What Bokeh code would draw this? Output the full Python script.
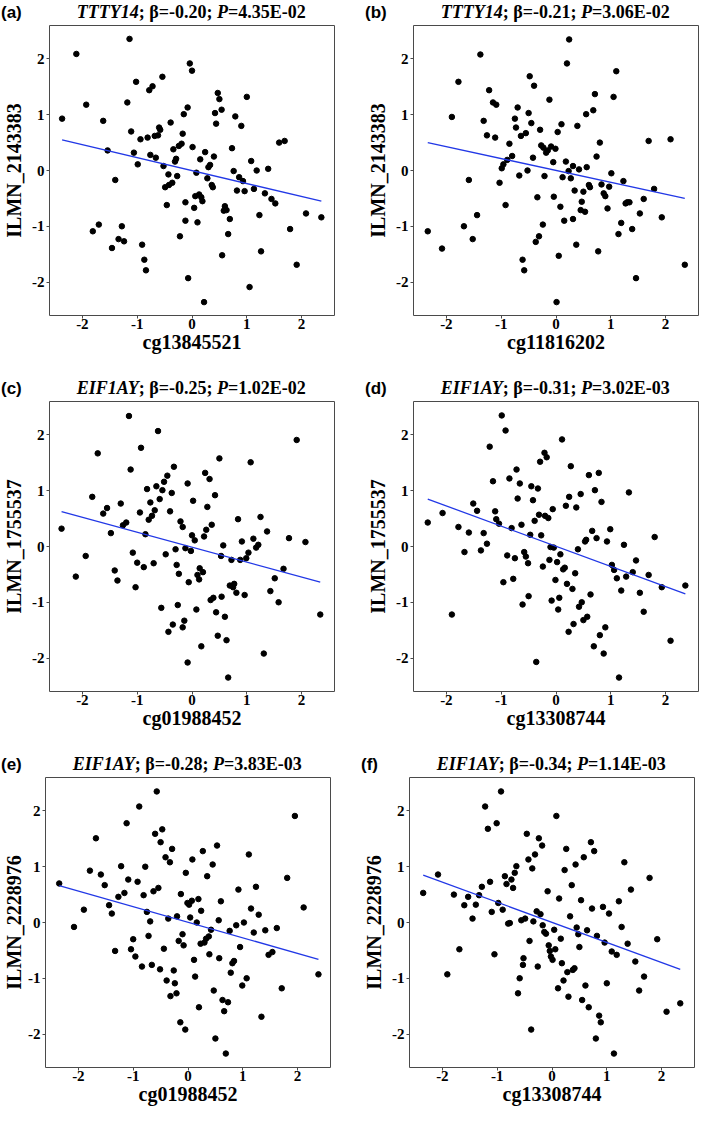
from bokeh.plotting import figure
from bokeh.layouts import column, row
from bokeh.models import Range1d, FixedTicker, Div, InlineStyleSheet
from bokeh.embed import file_html
from bokeh.resources import INLINE

# ---------------- data ----------------
a_xy = [(-2.37,0.93),(-2.11,2.09),(-1.93,1.18),(-1.81,-1.09),(-1.70,-0.97),(-1.62,0.89),(-1.54,0.36),(-1.46,-1.39),
        (-1.40,-0.17),(-1.34,-1.23),(-1.28,-1.00),(-1.24,-1.27),(-1.18,1.22),(-1.14,2.36),(-1.11,0.70),(-1.06,0.32),
        (-1.02,1.59),(-0.99,0.11),(-0.94,0.56),(-0.91,-1.33),(-0.87,-1.60),(-0.84,-1.79),(-0.81,0.59),(-0.78,1.44),
        (-0.76,0.28),(-0.72,1.51),(-0.68,0.62),(-0.66,0.23),(-0.62,0.63),(-0.60,0.77),(-0.58,0.73),(-0.54,1.68),
        (-0.52,0.08),(-0.49,-0.30),(-0.46,-0.62),(-0.43,-0.07),(-0.42,-0.26),(-0.39,0.86),(-0.36,-0.22),(-0.34,0.38),
        (-0.31,0.16),(-0.29,0.21),(-0.27,-0.10),(-0.24,0.44),(-0.22,-1.18),(-0.19,0.48),(-0.17,0.66),(-0.15,1.01),
        (-0.12,-0.57),(-0.12,-0.90),(-0.08,1.13),(-0.07,-1.93),(-0.04,1.92),(0.00,1.79),(0.01,0.42),(0.04,-0.67),
        (0.06,-0.46),(0.08,-0.04),(0.10,-0.93),(0.13,-0.43),(0.15,0.20),(0.17,-0.48),(0.19,-0.55),(0.22,-2.36),
        (0.24,0.33),(0.28,-0.14),(0.30,0.06),(0.33,0.10),(0.36,-0.26),(0.38,-0.30),(0.40,0.25),(0.42,1.03),
        (0.44,0.84),(0.47,1.39),(0.50,1.28),(0.54,1.09),(0.55,-1.52),(0.58,-0.72),(0.60,-0.64),(0.63,-0.71),
        (0.66,-1.14),(0.69,-0.87),(0.73,0.40),(0.76,-0.01),(0.79,0.97),(0.82,-0.36),(0.86,-0.12),(0.90,0.80),
        (0.93,-0.19),(0.96,-0.37),(1.00,1.32),(1.05,-2.09),(1.08,0.17),(1.13,-0.33),(1.18,0.00),(1.23,-0.80),
        (1.26,-1.45),(1.33,-0.41),(1.39,0.03),(1.45,-0.51),(1.52,-0.59),(1.59,0.50),(1.69,0.53),(1.79,-1.05),
        (1.91,-1.69),(2.08,-0.77),(2.36,-0.84)]

b_xy = [(-2.34,-1.09),(-2.08,-1.40),(-1.90,0.96),(-1.78,1.59),(-1.68,-1.00),(-1.59,-0.17),(-1.52,-1.23),(-1.44,-0.80),
        (-1.38,2.08),(-1.32,0.89),(-1.26,0.63),(-1.22,1.44),(-1.15,1.22),(-1.11,0.59),(-1.09,1.18),(-1.03,-0.22),
        (-0.99,0.04),(-0.96,0.11),(-0.92,-0.62),(-0.89,0.19),(-0.85,0.48),(-0.80,0.26),(-0.75,0.93),(-0.73,0.77),
        (-0.70,1.13),(-0.67,-0.09),(-0.64,0.62),(-0.61,-1.60),(-0.58,-1.79),(-0.55,0.67),(-0.52,0.00),(-0.50,1.03),
        (-0.48,1.69),(-0.45,0.85),(-0.42,0.23),(-0.40,1.52),(-0.37,-1.28),(-0.34,-0.48),(-0.31,-1.18),(-0.29,0.73),
        (-0.27,0.45),(-0.24,-0.97),(-0.23,0.41),(-0.21,-0.10),(-0.18,0.32),(-0.15,0.36),(-0.12,1.27),(-0.09,0.43),
        (-0.05,0.15),(-0.04,-0.47),(-0.01,0.39),(0.01,-2.36),(0.03,0.69),(0.05,-1.53),(0.08,-0.65),(0.10,0.83),
        (0.12,-0.12),(0.15,-0.90),(0.18,0.16),(0.20,1.92),(0.23,-0.01),(0.24,2.35),(0.27,-0.14),(0.31,0.08),
        (0.31,-0.87),(0.34,-0.36),(0.37,-1.33),(0.39,0.80),(0.42,0.02),(0.45,-0.71),(0.47,-0.56),(0.50,-0.38),
        (0.53,-0.74),(0.55,1.01),(0.56,0.06),(0.60,-0.26),(0.62,-0.30),(0.68,1.08),(0.71,1.37),(0.74,0.25),
        (0.77,-1.45),(0.80,0.50),(0.83,-0.25),(0.87,-0.41),(0.90,-0.46),(0.94,-0.68),(0.97,-0.29),(1.01,-0.05),
        (1.05,1.32),(1.10,1.78),(1.14,-1.14),(1.19,-0.94),(1.23,-0.19),(1.27,-0.59),(1.30,-0.57),(1.34,-0.57),
        (1.39,-1.05),(1.46,-1.93),(1.53,-0.77),(1.60,-0.51),(1.69,0.53),(1.79,-0.33),(1.93,-0.84),(2.09,0.56),
        (2.35,-1.69)]

c_xy = [(-2.38,0.32),(-2.12,-0.54),(-1.94,-0.17),(-1.82,0.89),(-1.72,1.67),(-1.62,0.59),(-1.55,0.69),(-1.48,0.24),
        (-1.41,-0.43),(-1.36,-0.61),(-1.30,0.77),(-1.26,0.38),(-1.20,0.43),(-1.15,2.34),(-1.12,1.38),(-1.08,-0.11),
        (-1.03,-0.73),(-1.00,-0.29),(-0.95,0.61),(-0.93,1.77),(-0.88,-0.37),(-0.85,0.22),(-0.82,1.03),(-0.79,0.48),
        (-0.76,0.79),(-0.73,0.55),(-0.70,-0.30),(-0.68,0.65),(-0.65,1.08),(-0.62,2.07),(-0.59,0.85),(-0.56,-1.10),
        (-0.54,1.01),(-0.51,1.16),(-0.48,-0.14),(-0.45,1.27),(-0.43,-1.53),(-0.40,0.63),(-0.37,0.96),(-0.35,-1.40),
        (-0.33,1.43),(-0.30,-0.05),(-0.28,-0.33),(-0.26,-1.05),(-0.24,-0.49),(-0.21,0.45),(-0.17,0.35),(-0.17,-1.45),
        (-0.14,-1.33),(-0.12,-0.03),(-0.08,1.13),(-0.08,-2.08),(-0.06,-0.64),(-0.02,-0.08),(0.00,0.20),(0.02,0.82),
        (0.05,0.11),(0.08,-1.13),(0.10,-0.51),(0.13,-0.59),(0.14,-0.39),(0.17,-1.79),(0.20,-0.46),(0.22,0.18),
        (0.24,1.32),(0.26,0.30),(0.28,0.71),(0.32,1.21),(0.34,-0.96),(0.36,0.39),(0.39,-0.92),(0.42,0.92),
        (0.44,-1.18),(0.47,-1.60),(0.50,1.58),(0.53,-0.17),(0.54,-0.90),(0.57,0.02),(0.60,-1.26),(0.63,-1.68),
        (0.66,-2.35),(0.69,-0.70),(0.72,-0.24),(0.75,-0.73),(0.77,-0.67),(0.81,-0.83),(0.84,0.49),(0.88,-0.24),
        (0.91,0.09),(0.96,-0.87),(0.99,-0.21),(1.03,-0.11),(1.07,1.51),(1.12,0.14),(1.17,-0.02),(1.21,0.03),
        (1.25,0.53),(1.31,-1.92),(1.37,0.27),(1.43,-0.80),(1.51,-0.57),(1.58,-1.00),(1.67,-0.40),(1.77,0.15),
        (1.91,1.91),(2.07,0.08),(2.34,-1.22)]

d_xy = [(-2.34,0.43),(-2.07,0.60),(-1.90,-1.22),(-1.78,0.35),(-1.67,-0.10),(-1.59,0.25),(-1.51,0.77),(-1.44,0.64),
        (-1.37,-0.07),(-1.32,0.24),(-1.26,0.05),(-1.21,1.79),(-1.15,1.17),(-1.11,0.63),(-1.09,0.49),(-1.04,0.41),
        (-0.99,2.35),(-0.96,-0.64),(-0.92,2.08),(-0.89,-0.16),(-0.85,1.22),(-0.81,0.33),(-0.78,-0.58),(-0.75,-0.21),
        (-0.72,1.38),(-0.70,0.86),(-0.66,1.13),(-0.63,0.39),(-0.61,-1.04),(-0.58,-0.10),(-0.55,-0.18),(-0.51,-0.30),
        (-0.50,-0.89),(-0.47,0.21),(-0.45,1.08),(-0.42,0.83),(-0.39,0.46),(-0.36,-2.07),(-0.33,1.04),(-0.31,0.57),
        (-0.29,1.52),(-0.27,0.20),(-0.24,-0.36),(-0.21,1.68),(-0.20,0.55),(-0.17,1.60),(-0.14,0.51),(-0.12,-0.24),
        (-0.10,-0.01),(-0.08,-0.97),(-0.06,0.67),(-0.04,-0.02),(-0.01,-0.60),(0.02,-0.28),(0.04,-1.13),(0.06,-0.92),
        (0.08,-0.14),(0.11,1.92),(0.13,-0.41),(0.16,-0.38),(0.18,0.73),(0.20,-0.67),(0.23,-1.53),(0.24,0.89),
        (0.27,1.44),(0.30,-0.76),(0.32,-1.39),(0.35,-0.48),(0.37,0.70),(0.40,-0.05),(0.42,-1.08),(0.45,0.94),
        (0.47,-1.00),(0.50,-1.32),(0.53,0.09),(0.55,0.12),(0.57,-1.26),(0.60,1.28),(0.63,-0.86),(0.66,0.28),
        (0.69,-1.79),(0.71,1.01),(0.74,0.15),(0.78,1.32),(0.80,-1.59),(0.83,0.80),(0.87,-1.92),(0.90,-1.45),
        (0.93,0.09),(0.99,0.31),(1.02,-0.33),(1.06,-0.42),(1.11,-0.57),(1.15,-2.35),(1.19,-0.79),(1.24,0.03),
        (1.28,-0.54),(1.33,0.97),(1.40,-0.46),(1.46,-0.25),(1.53,-0.83),(1.60,-1.17),(1.69,-0.51),(1.80,0.17),
        (1.93,-0.73),(2.09,-1.69),(2.36,-0.70)]

e_xy = [(-2.35,0.70),(-2.08,-0.08),(-1.90,0.23),(-1.79,0.93),(-1.68,1.51),(-1.59,0.86),(-1.52,0.67),(-1.44,0.31),
        (-1.39,0.16),(-1.33,-0.51),(-1.27,0.46),(-1.22,1.01),(-1.16,0.53),(-1.12,1.78),(-1.09,0.77),(-1.04,-0.48),
        (-1.00,-0.30),(-0.96,-0.61),(-0.92,0.73),(-0.89,2.08),(-0.84,-0.79),(-0.81,0.49),(-0.78,1.00),(-0.75,0.19),
        (-0.72,-0.24),(-0.69,0.02),(-0.66,-0.76),(-0.63,0.56),(-0.60,1.59),(-0.57,2.35),(-0.54,0.62),(-0.51,-0.84),
        (-0.50,1.44),(-0.47,1.67),(-0.44,-0.47),(-0.41,1.17),(-0.39,-1.04),(-0.36,0.07),(-0.33,1.08),(-0.32,-1.32),
        (-0.29,1.32),(-0.26,-0.86),(-0.24,-1.09),(-0.21,-1.27),(-0.20,0.11),(-0.17,-0.33),(-0.14,-1.79),(-0.13,0.51),
        (-0.10,-0.21),(-0.08,-0.41),(-0.05,-1.92),(-0.04,0.89),(-0.01,0.35),(0.02,0.32),(0.04,0.09),(0.07,0.39),
        (0.08,1.13),(0.11,-0.67),(0.13,-0.97),(0.16,0.00),(0.19,0.42),(0.20,-1.52),(0.23,-0.38),(0.24,0.21),
        (0.27,1.28),(0.30,-0.36),(0.33,-0.29),(0.35,0.83),(0.38,-0.25),(0.39,-0.57),(0.42,-0.13),(0.45,1.04),
        (0.47,-1.22),(0.50,-2.08),(0.53,1.38),(0.56,0.04),(0.57,-0.64),(0.60,0.38),(0.63,-1.39),(0.66,-1.59),
        (0.69,-2.35),(0.73,-1.43),(0.76,-0.15),(0.78,-0.90),(0.81,-0.73),(0.84,-0.69),(0.88,-0.05),(0.92,0.59),
        (0.95,-0.44),(0.99,-1.13),(1.02,0.00),(1.07,-1.00),(1.11,1.22),(1.15,0.25),(1.20,-0.18),(1.24,0.64),
        (1.29,0.14),(1.34,-1.69),(1.41,-0.14),(1.47,-0.58),(1.54,-0.53),(1.62,-0.10),(1.71,-1.18),(1.81,0.80),
        (1.95,1.91),(2.11,0.27),(2.38,-0.93)]

f_xy = [(-2.35,0.53),(-2.08,0.86),(-1.91,-0.93),(-1.79,0.50),(-1.69,-0.48),(-1.60,0.31),(-1.53,0.46),(-1.45,0.07),
        (-1.39,0.32),(-1.33,0.49),(-1.28,0.64),(-1.22,2.08),(-1.17,1.68),(-1.13,0.73),(-1.10,0.19),(-1.05,-0.57),
        (-1.01,1.78),(-0.98,0.35),(-0.93,2.35),(-0.90,0.23),(-0.86,0.83),(-0.83,0.69),(-0.80,-0.02),(-0.77,-0.01),
        (-0.74,0.77),(-0.71,0.62),(-0.68,0.89),(-0.65,1.01),(-0.62,-1.27),(-0.59,-1.00),(-0.56,0.04),(-0.53,-0.76),
        (-0.52,-0.64),(-0.49,0.07),(-0.46,1.59),(-0.43,1.13),(-0.41,-0.33),(-0.38,-1.92),(-0.36,0.97),(-0.34,0.02),
        (-0.31,1.22),(-0.28,0.20),(-0.26,-0.79),(-0.24,1.51),(-0.21,0.15),(-0.18,1.38),(-0.17,-0.05),(-0.14,-0.17),
        (-0.11,-0.20),(-0.08,0.56),(-0.06,-0.41),(-0.04,-0.51),(-0.02,-0.61),(0.01,-0.67),(0.04,-0.13),(0.06,-0.48),
        (0.08,1.91),(0.11,-1.18),(0.13,0.43),(0.16,-0.29),(0.18,-0.73),(0.21,-1.04),(0.23,0.94),(0.26,1.32),
        (0.28,-0.89),(0.30,-1.33),(0.33,0.11),(0.36,0.67),(0.38,-0.85),(0.41,-0.82),(0.43,1.04),(0.45,-0.09),
        (0.48,-0.21),(0.50,-0.44),(0.53,0.40),(0.55,-1.39),(0.58,1.17),(0.61,-1.13),(0.64,-0.14),(0.67,-1.52),
        (0.71,1.44),(0.73,0.25),(0.77,1.28),(0.80,-2.08),(0.82,-0.24),(0.86,-1.67),(0.89,-1.79),(0.93,0.28),
        (0.96,-0.36),(1.00,-1.09),(1.04,0.16),(1.09,-0.52),(1.13,-2.35),(1.18,-0.58),(1.22,0.38),(1.27,-0.08),
        (1.32,1.08),(1.38,-0.38),(1.44,0.59),(1.52,-0.70),(1.59,-1.22),(1.68,-0.97),(1.78,0.80),(1.92,-0.30),
        (2.09,-1.60),(2.34,-1.45)]

fit_left = [0.55, 0.50, 0.625, 0.85, 0.66, 0.85]
fit_right = [-0.55, -0.50, -0.64, -0.85, -0.66, -0.84]

tags = ["(a)", "(b)", "(c)", "(d)", "(e)", "(f)"]
genes = ["TTTY14", "TTTY14", "EIF1AY", "EIF1AY", "EIF1AY", "EIF1AY"]
betas = ["-0.20", "-0.21", "-0.25", "-0.31", "-0.28", "-0.34"]
pvals = ["4.35E-02", "3.06E-02", "1.02E-02", "3.02E-03", "3.83E-03", "1.14E-03"]
xlabels = ["cg13845521", "cg11816202", "cg01988452", "cg13308744", "cg01988452", "cg13308744"]
ylabels = ["ILMN_2143383", "ILMN_2143383", "ILMN_1755537", "ILMN_1755537", "ILMN_2228976", "ILMN_2228976"]
tick_values = [-2, -1, 0, 1, 2]
tick_labels = ["-2", "-1", "0", "1", "2"]

# ---------------- styling / layout ----------------
SERIF = "Liberation Serif"
SANS = "Liberation Sans"
LIM = 2.6
FRAME = 290
PPU = FRAME / (2 * LIM)
TS = 18  # title font px
GS = 17  # panel tag font px


def make_title(i, width, height, bl):
    base = height + 2 - 6.5              # baseline, px from the top of the title strip
    t_top = base - 0.8375 * TS
    g_top = base - 0.8465 * GS
    center = bl + FRAME / 2.0 + 0.04 * PPU
    css = (
        f".box {{ position: relative; width: {width}px; height: {height}px; overflow: visible; }}\n"
        f".tag {{ position: absolute; left: 1px; top: {g_top:.2f}px; margin: 0; padding: 0;"
        f" font-family: '{SANS}', sans-serif !important; font-weight: bold !important;"
        f" font-size: {GS}px !important; line-height: {GS}px !important; white-space: nowrap; color: black; }}\n"
        f".ttl {{ position: absolute; left: {center - 160:.2f}px; width: 320px; text-align: center;"
        f" top: {t_top:.2f}px; margin: 0; padding: 0;"
        f" font-family: '{SERIF}', serif !important; font-weight: bold !important;"
        f" font-size: {TS}px !important; line-height: {TS}px !important; white-space: nowrap; color: black; }}\n"
        f".ttl i {{ font-style: italic; font-size: {TS}px !important; }}\n"
    )
    html = (f'<div class="box"><span class="tag">{tags[i]}</span>'
            f'<span class="ttl"><i>{genes[i]}</i>; β={betas[i]}; <i>P</i>={pvals[i]}</span></div>')
    return Div(text=html, width=width, height=height, margin=0,
               styles={"overflow": "visible", "font-size": f"{TS}px"},
               stylesheets=[InlineStyleSheet(css=css)])


def make_panel(i, xy, width, height, bl, br, bb, ylab_standoff):
    xs = [p[0] for p in xy]
    ys = [p[1] for p in xy]
    p = figure(width=width, height=height, min_border_left=bl, min_border_right=br,
               min_border_top=2, min_border_bottom=bb,
               x_range=Range1d(-LIM, LIM), y_range=Range1d(-LIM, LIM),
               output_backend="svg", toolbar_location=None, title=None)
    p.xgrid.visible = False
    p.ygrid.visible = False
    p.outline_line_color = "#4a4a4a"
    p.outline_line_width = 1
    p.background_fill_color = "white"
    p.border_fill_color = "white"

    for ax in (p.xaxis[0], p.yaxis[0]):
        ax.ticker = FixedTicker(ticks=tick_values)
        ax.major_label_overrides = {v: s for v, s in zip(tick_values, tick_labels)}
        ax.major_label_text_font = SERIF
        ax.major_label_text_font_style = "bold"
        ax.major_label_text_font_size = "15px"
        ax.major_label_text_color = "black"
        ax.axis_label_text_font = SERIF
        ax.axis_label_text_font_style = "bold"
        ax.axis_label_text_font_size = "20px"
        ax.axis_label_text_color = "black"
        ax.axis_line_color = None
        ax.major_tick_line_color = "#4a4a4a"
        ax.major_tick_in = 0
        ax.major_tick_out = 3
        ax.minor_tick_line_color = None
    p.xaxis.axis_label = xlabels[i]
    p.yaxis.axis_label = ylabels[i]
    p.xaxis.major_label_standoff = 0
    p.xaxis.axis_label_standoff = -1
    p.yaxis.major_label_standoff = 2
    p.yaxis.axis_label_standoff = ylab_standoff

    p.scatter(xs, ys, size=5.5, color="black", marker="circle")
    p.line([min(xs), max(xs)], [fit_left[i], fit_right[i]], line_color="#2238e6", line_width=1.3)
    return p


data = [a_xy, b_xy, c_xy, d_xy, e_xy, f_xy]
# (width, title height, plot height, border left, right, bottom, y-label standoff)
geom = [(364, 23, 346, 44, 30, 54, 4), (336, 23, 346, 44, 2, 54, 4),
        (364, 30, 346, 44, 30, 54, 4), (336, 30, 346, 44, 2, 54, 4),
        (360, 30, 333, 40, 30, 41, 0), (336, 30, 333, 44, 2, 41, 4)]

cells = []
for i in range(6):
    w, th, ph, bl, br, bb, ys = geom[i]
    cells.append(column(make_title(i, w, th, bl), make_panel(i, data[i], w, ph, bl, br, bb, ys)))

layout = column(row(cells[0], cells[1]), row(cells[2], cells[3]), row(cells[4], cells[5]))
open("out.html", "w").write(file_html(layout, INLINE))
